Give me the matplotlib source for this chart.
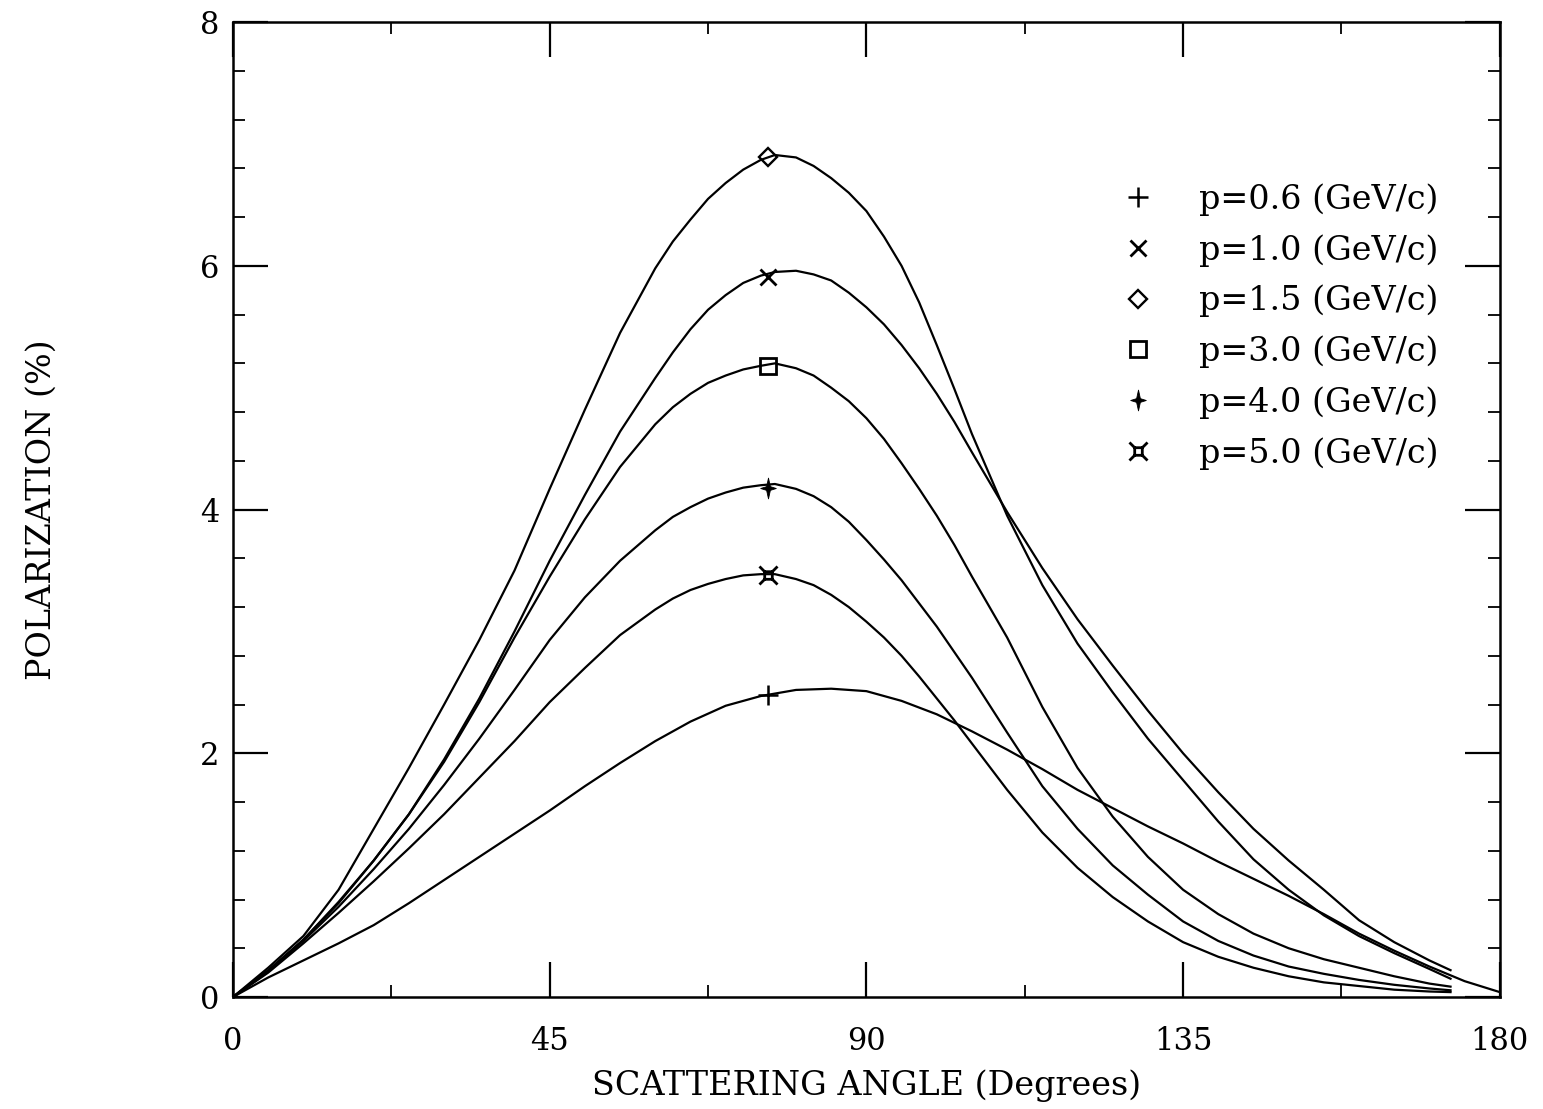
import numpy as np
import matplotlib
matplotlib.use("Agg")
import matplotlib.pyplot as plt
from matplotlib.path import Path
from matplotlib.lines import Line2D
from matplotlib.ticker import MultipleLocator

plt.rcParams['font.family'] = ['DejaVu Serif']

# ---------------- data ----------------
angles = [0, 5, 10, 15, 20, 25, 30, 35, 40, 45, 50, 55, 60, 62.5, 65, 67.5, 70, 72.5,
          75, 77, 80, 82.5, 85, 87.5, 90, 92.5, 95, 97.5, 100, 102.5, 105, 110, 115,
          120, 125, 130, 135, 140, 145, 150, 155, 160, 165, 170, 173]
angles_p06 = [0, 5, 10, 15, 20, 25, 30, 35, 40, 45, 50, 55, 60, 65, 70, 75, 77, 80,
              85, 90, 95, 100, 105, 110, 115, 120, 125, 130, 135, 140, 145, 150,
              155, 160, 165, 170, 175, 180]

pol_p06 = [0, 0.16, 0.30, 0.44, 0.59, 0.77, 0.96, 1.15, 1.34, 1.53, 1.73, 1.92, 2.10,
           2.26, 2.39, 2.47, 2.49, 2.52, 2.53, 2.51, 2.43, 2.32, 2.18, 2.03, 1.87,
           1.70, 1.55, 1.40, 1.26, 1.11, 0.97, 0.83, 0.68, 0.52, 0.38, 0.25, 0.13, 0.04]
pol_p10 = [0, 0.22, 0.47, 0.78, 1.12, 1.50, 1.95, 2.45, 3.00, 3.58, 4.12, 4.64,
           5.08, 5.29, 5.48, 5.64, 5.76, 5.86, 5.92, 5.95, 5.96, 5.93, 5.88, 5.78,
           5.66, 5.52, 5.35, 5.16, 4.95, 4.72, 4.47, 3.98, 3.52,
           3.10, 2.72, 2.35, 2.00, 1.68, 1.38, 1.12, 0.88, 0.63, 0.45, 0.30, 0.22]
pol_p15 = [0, 0.24, 0.50, 0.88, 1.38, 1.88, 2.40, 2.93, 3.50, 4.17, 4.82, 5.45,
           5.98, 6.20, 6.38, 6.55, 6.68, 6.79, 6.87, 6.91, 6.89, 6.82, 6.72, 6.60,
           6.45, 6.24, 6.00, 5.70, 5.35, 4.99, 4.62, 3.95, 3.38,
           2.90, 2.50, 2.12, 1.78, 1.44, 1.13, 0.88, 0.67, 0.50, 0.36, 0.23, 0.15]
pol_p30 = [0, 0.21, 0.47, 0.77, 1.12, 1.50, 1.93, 2.42, 2.95, 3.45, 3.92, 4.35,
           4.70, 4.84, 4.95, 5.04, 5.10, 5.15, 5.18, 5.20, 5.16, 5.10, 5.00, 4.89,
           4.75, 4.58, 4.38, 4.17, 3.95, 3.71, 3.45, 2.95, 2.38,
           1.88, 1.48, 1.15, 0.88, 0.68, 0.52, 0.40, 0.31, 0.24, 0.17, 0.11, 0.085]
pol_p40 = [0, 0.21, 0.46, 0.74, 1.05, 1.38, 1.74, 2.12, 2.52, 2.93, 3.28, 3.58,
           3.83, 3.94, 4.02, 4.09, 4.14, 4.18, 4.20, 4.21, 4.17, 4.11, 4.02, 3.90,
           3.75, 3.59, 3.42, 3.23, 3.04, 2.83, 2.62, 2.17, 1.73,
           1.38, 1.08, 0.84, 0.62, 0.46, 0.34, 0.25, 0.19, 0.14, 0.10, 0.07, 0.055]
pol_p50 = [0, 0.20, 0.44, 0.69, 0.95, 1.22, 1.50, 1.80, 2.10, 2.42, 2.70, 2.97,
           3.18, 3.27, 3.34, 3.39, 3.43, 3.46, 3.47, 3.47, 3.43, 3.38, 3.30, 3.20,
           3.08, 2.95, 2.80, 2.63, 2.45, 2.27, 2.08, 1.70, 1.35,
           1.06, 0.82, 0.62, 0.45, 0.33, 0.24, 0.17, 0.12, 0.09, 0.06, 0.045, 0.04]

labels = ["p=0.6 (GeV/c)", "p=1.0 (GeV/c)", "p=1.5 (GeV/c)",
          "p=3.0 (GeV/c)", "p=4.0 (GeV/c)", "p=5.0 (GeV/c)"]
marker_angle = 76
marker_pol = [2.48, 5.91, 6.89, 5.18, 4.18, 3.46]

# ---------------- custom markers ----------------
star4 = Path([(0, 1), (0.18, 0.18), (0.75, 0), (0.18, -0.18), (0, -1),
              (-0.18, -0.18), (-0.75, 0), (-0.18, 0.18), (0, 1)],
             [Path.MOVETO] + [Path.LINETO] * 7 + [Path.CLOSEPOLY])
s = 0.42
sq_spur = Path([(-s, -s), (s, -s), (s, s), (-s, s), (-s, -s),
                (-1, -1), (-s, -s), (1, -1), (s, -s), (1, 1), (s, s), (-1, 1), (-s, s)],
               [Path.MOVETO, Path.LINETO, Path.LINETO, Path.LINETO, Path.CLOSEPOLY,
                Path.MOVETO, Path.LINETO, Path.MOVETO, Path.LINETO,
                Path.MOVETO, Path.LINETO, Path.MOVETO, Path.LINETO])

styles = [
    dict(marker='+', ms=14, mew=1.8, mfc='black'),
    dict(marker='x', ms=12, mew=2.0, mfc='black'),
    dict(marker='D', ms=9, mew=1.7, mfc='none'),
    dict(marker='s', ms=11, mew=2.0, mfc='none'),
    dict(marker=star4, ms=15, mew=0.6, mfc='black'),
    dict(marker=sq_spur, ms=13, mew=2.0, mfc='none'),
]

fig = plt.figure(figsize=(15.43, 11.09), dpi=100)
ax = fig.add_axes([0.151, 0.101, 0.821, 0.879])

series = [(angles_p06, pol_p06), (angles, pol_p10), (angles, pol_p15),
          (angles, pol_p30), (angles, pol_p40), (angles, pol_p50)]
for (a, v), mp, st in zip(series, marker_pol, styles):
    ax.plot(a, v, color='black', lw=1.6, solid_joinstyle='round')
    ax.plot([marker_angle], [mp], linestyle='none', color='black', mec='black', **st)

ax.set_xlim(0, 180)
ax.set_ylim(0, 8)
ax.xaxis.set_major_locator(MultipleLocator(45))
ax.xaxis.set_minor_locator(MultipleLocator(22.5))
ax.yaxis.set_major_locator(MultipleLocator(2))
ax.yaxis.set_minor_locator(MultipleLocator(0.4))
ax.tick_params(which='both', direction='in', top=True, right=True, colors='black')
ax.tick_params(which='major', length=25, width=1.6)
ax.tick_params(which='minor', length=8.5, width=1.3)
ax.tick_params(axis='x', which='major', pad=21, labelsize=22)
ax.tick_params(axis='y', which='major', pad=10, labelsize=22)
for sp in ax.spines.values():
    sp.set_linewidth(1.8)

ax.set_xlabel("SCATTERING ANGLE (Degrees)", fontsize=24, labelpad=9)
ax.set_ylabel("POLARIZATION (%)", fontsize=24, labelpad=102)

handles = [Line2D([], [], linestyle='none', color='black', mec='black', **st) for st in styles]
ax.legend(handles, labels, loc='upper left', bbox_to_anchor=(0.701, 0.835),
          frameon=False, fontsize=24, handlelength=1.0, handletextpad=1.35,
          labelspacing=0.545, borderaxespad=0, borderpad=0)

fig.savefig("out.png", dpi=100)
